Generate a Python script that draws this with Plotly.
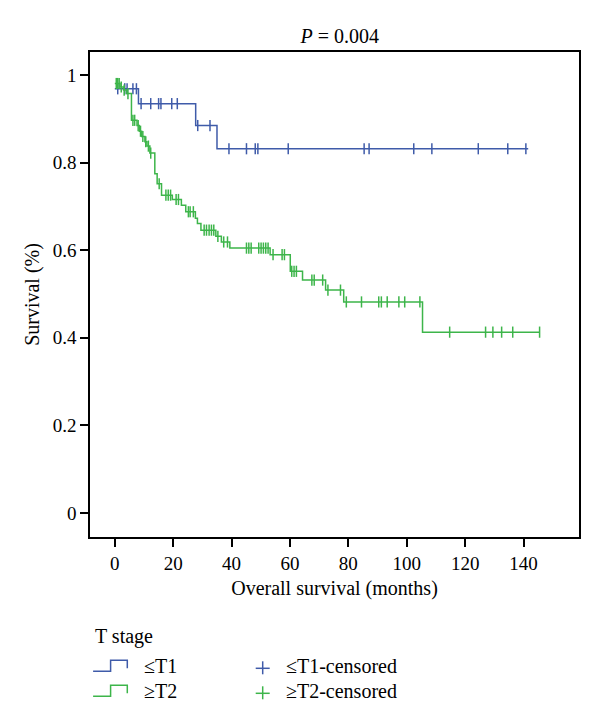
import plotly.graph_objects as go

# ---------------- data ----------------
# <=T1 group: step times (months) and survival after each step
t1_times = [0, 8.1, 27.7, 35.0]
t1_surv = [0.969, 0.935, 0.885, 0.832]
t1_end = 141.6
t1_censored = [1.0, 3.4, 4.2, 6.2, 7.4, 9.0, 12.3, 15.0, 15.8, 19.5, 21.4,
               28.4, 32.6, 39.1, 45.1, 48.1, 49.0, 59.4, 85.4, 87.1, 102.4,
               108.6, 124.5, 134.6, 140.8]

# >=T2 group
t2_times = [0, 1.8, 3.0, 4.0, 5.7, 7.6, 8.4, 9.2, 10.3, 11.0, 12.0, 13.7,
            14.5, 16.0, 19.7, 22.8, 24.3, 27.6, 28.3, 29.5, 34.6, 36.5, 39.4,
            53.2, 60.1, 64.3, 72.2, 78.4, 105.4]
t2_surv = [0.981, 0.973, 0.966, 0.958, 0.897, 0.885, 0.872, 0.860, 0.848,
           0.838, 0.822, 0.775, 0.752, 0.726, 0.716, 0.703, 0.688, 0.673,
           0.661, 0.646, 0.632, 0.619, 0.605, 0.590, 0.552, 0.532, 0.509,
           0.482, 0.413]
t2_end = 145.5
t2_censored = [0.5, 1.0, 1.5, 2.2, 3.2, 4.5, 6.2, 6.8, 8.0, 8.8, 9.6, 10.6,
               11.5, 12.3, 15.2, 17.5, 18.3, 19.1, 21.0, 21.8, 25.2, 25.8,
               26.9, 30.6, 31.4, 32.3, 33.1, 33.9, 35.3, 37.3, 38.6, 45.1,
               45.9, 46.7, 49.3, 50.1, 50.9, 51.7, 52.5, 54.2, 57.3, 58.1,
               60.6, 61.4, 62.2, 67.5, 68.3, 71.2, 73.0, 77.3, 79.3, 84.5,
               90.4, 91.3, 93.3, 97.3, 99.3, 104.5, 114.7, 127.0, 129.5,
               132.5, 136.3, 145.5]

x_ticks = [0, 20, 40, 60, 80, 100, 120, 140]
y_ticks = [0, 0.2, 0.4, 0.6, 0.8, 1.0]
y_tick_labels = ["0", "0.2", "0.4", "0.6", "0.8", "1"]

BLUE = "#3F5BA9"
GREEN = "#3DB54A"
FONT = "Liberation Serif, Times New Roman, serif"
OFF = 8  # page body margin


def step_value(times, surv, t):
    v = surv[0]
    for ti, si in zip(times, surv):
        if ti <= t:
            v = si
    return v


fig = go.Figure()

for times, surv, end, cens, col, name in [
    (t1_times, t1_surv, t1_end, t1_censored, BLUE, "≤T1"),
    (t2_times, t2_surv, t2_end, t2_censored, GREEN, "≥T2"),
]:
    fig.add_trace(go.Scatter(
        x=times + [end], y=surv + [surv[-1]], mode="lines",
        line=dict(color=col, width=1.5, shape="hv"), name=name,
        showlegend=False, hoverinfo="skip"))
    fig.add_trace(go.Scatter(
        x=cens, y=[step_value(times, surv, c) for c in cens], mode="markers",
        marker=dict(symbol="line-ns-open", size=8, color=col,
                    line=dict(color=col, width=1.5)),
        name=name + "-censored", showlegend=False, hoverinfo="skip"))

axis_common = dict(showline=True, linecolor="black", linewidth=1.5,
                   mirror=True, ticks="outside", ticklen=8, tickwidth=1.5,
                   tickcolor="black", showgrid=False, zeroline=False,
                   tickfont=dict(family=FONT, size=19, color="black"))

fig.update_xaxes(range=[-8.5, 159], tickvals=x_ticks,
                 title=dict(text="Overall survival (months)",
                            font=dict(family=FONT, size=20, color="black"),
                            standoff=8),
                 **axis_common)
fig.update_yaxes(range=[-0.055, 1.053], tickvals=y_ticks,
                 ticktext=y_tick_labels,
                 title=dict(text="Survival (%)",
                            font=dict(family=FONT, size=20, color="black"),
                            standoff=8),
                 **axis_common)

# ----- custom legend below the plot (page pixel coords -> paper) -----
L, R, T, B = 90.3 - OFF, 579.3 - OFF, 51.7 - OFF, 536.7 - OFF


def px(xp):
    return (xp - OFF - L) / (R - L)


def py(yp):
    return (B - (yp - OFF)) / (B - T)


ann = []
ann.append(dict(text="T stage", x=px(93), y=py(636), xref="paper",
                yref="paper", xanchor="left", yanchor="middle",
                showarrow=False, font=dict(family=FONT, size=20,
                                           color="black")))
rows = [(666, BLUE, "≤T1"), (691, GREEN, "≥T2")]
shapes = []
for yc, col, lab in rows:
    y_low = yc + 5
    y_high = yc - 6
    path = "M {} {} L {} {} L {} {} L {} {} L {} {}".format(
        px(93.4), py(y_low), px(110.9), py(y_low), px(110.9), py(y_high),
        px(127.6), py(y_high), px(127.6), py(yc + 2))
    shapes.append(dict(type="path", path=path, xref="paper", yref="paper",
                       line=dict(color=col, width=1.5)))
    ann.append(dict(text=lab, x=px(142), y=py(yc), xref="paper",
                    yref="paper", xanchor="left", yanchor="middle",
                    showarrow=False, font=dict(family=FONT, size=20,
                                               color="black")))
    shapes.append(dict(type="line", xref="paper", yref="paper",
                       x0=px(256), x1=px(270), y0=py(yc + 2), y1=py(yc + 2),
                       line=dict(color=col, width=1.5)))
    shapes.append(dict(type="line", xref="paper", yref="paper",
                       x0=px(263), x1=px(263), y0=py(yc - 5), y1=py(yc + 8),
                       line=dict(color=col, width=1.5)))
    ann.append(dict(text=lab + "-censored", x=px(284), y=py(yc),
                    xref="paper", yref="paper", xanchor="left",
                    yanchor="middle", showarrow=False,
                    font=dict(family=FONT, size=20, color="black")))

fig.update_layout(
    width=600, height=723,
    margin=dict(l=L, r=600 - R, t=T, b=723 - B, autoexpand=False),
    paper_bgcolor="white", plot_bgcolor="white",
    title=dict(text="<i>P</i> = 0.004", x=px(340), xref="paper",
               xanchor="center", y=1 - (36 - OFF) / 723, yanchor="middle",
               font=dict(family=FONT, size=20, color="black")),
    annotations=ann, shapes=shapes, showlegend=False,
)

fig.write_html("out.html")
